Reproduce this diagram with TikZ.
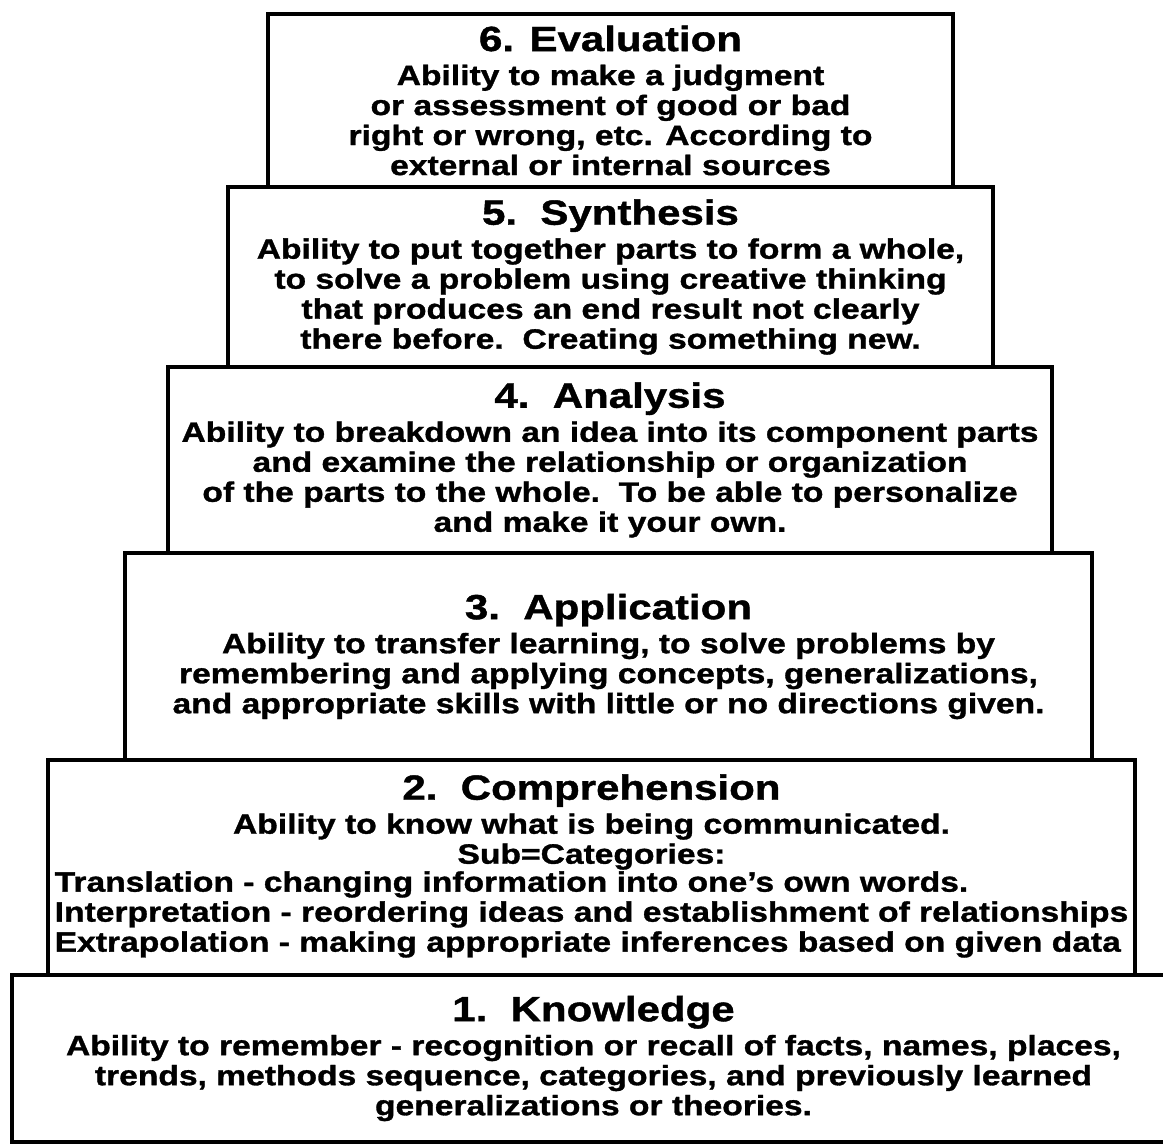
\documentclass[tikz,border=0pt]{standalone}
\usepackage{fontspec}
\setmainfont{Liberation Sans}[FakeStretch=1.2, BoldFeatures={FakeBold=1.2}]
\usepackage{tikz}
\usetikzlibrary{positioning}
\newcommand{\leveltitle}[1]{{\fontsize{35}{38}\selectfont #1}\\[4pt]}

\begin{document}
\begin{tikzpicture}[
    x = 1pt, y = -1pt,
    line width = 4pt,
    level/.style={rectangle, draw, inner sep=0pt, outer sep=0pt, align=center,
        font=\bfseries\fontsize{28}{30}\selectfont}
]
    \useasboundingbox (0,0) rectangle (1163,1147);

    \node[level, minimum width=685, minimum height=173] (l6) at (610.5,100.5)
        {\leveltitle{6. Evaluation}
         Ability to make a judgment\\
         or assessment of good or bad\\
         right or wrong, etc. According to\\
         external or internal sources};
    \node[level, minimum width=765, minimum height=180] (l5) at (610.5,277)
        {\leveltitle{5.\ \ Synthesis}
         Ability to put together parts to form a whole,\\
         to solve a problem using creative thinking\\
         that produces an end result not clearly\\
         there before.\ \ Creating something new.};
    \node[level, minimum width=884, minimum height=186] (l4) at (610,460)
        {\leveltitle{4.\ \ Analysis}
         Ability to breakdown an idea into its component parts\\
         and examine the relationship or organization\\
         of the parts to the whole.\ \ To be able to personalize\\
         and make it your own.};
    \node[level, minimum width=967, minimum height=207] (l3) at (608.5,656.5)
        {\leveltitle{3.\ \ Application}
         Ability to transfer learning, to solve problems by\\
         remembering and applying concepts, generalizations,\\
         and appropriate skills with little or no directions given.};
    \node[level, minimum width=1087, minimum height=215] (l2) at (591.5,867.5)
        {\leveltitle{2.\ \ Comprehension}
         Ability to know what is being communicated.\\
         Sub=Categories:\\
         \begin{tabular}{@{}l@{}}
         Translation - changing information into one’s own words.\\
         Interpretation - reordering ideas and establishment of relationships\\
         Extrapolation - making appropriate inferences based on given data
         \end{tabular}};
    \node[level, minimum width=1163, minimum height=167] (l1) at (593.5,1058.5)
        {\leveltitle{1.\ \ Knowledge}
         Ability to remember - recognition or recall of facts, names, places,\\
         trends, methods sequence, categories, and previously learned\\
         generalizations or theories.};
\end{tikzpicture}
\end{document}
